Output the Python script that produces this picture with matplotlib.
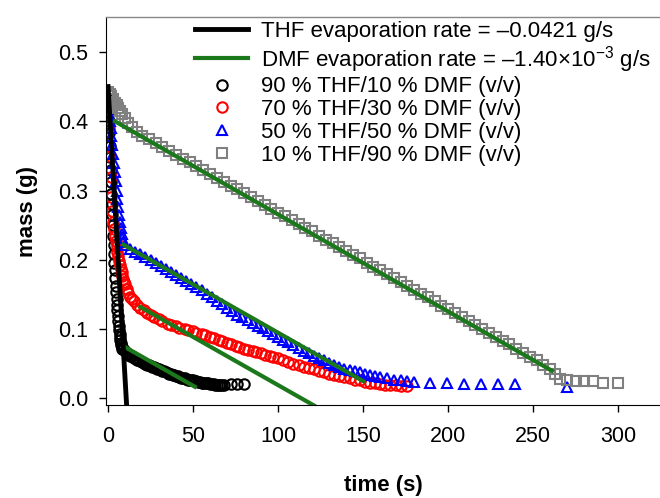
import numpy as np
import matplotlib
matplotlib.use('Agg')
import matplotlib.pyplot as plt

plt.rcParams['font.family'] = ['Liberation Sans', 'DejaVu Sans']
plt.rcParams['mathtext.fontset'] = 'custom'
plt.rcParams['mathtext.rm'] = 'Liberation Sans'
plt.rcParams['mathtext.it'] = 'Liberation Sans:italic'
plt.rcParams['mathtext.bf'] = 'Liberation Sans:bold'

# 90 % THF / 10 % DMF
t90 = [0, 0.25, 0.5, 0.75, 1, 1.25, 1.5, 1.75, 2, 2.25, 2.5, 2.75, 3, 3.25,
       3.5, 3.75, 4, 4.25, 4.5, 4.75, 5, 5.25, 5.5, 5.75, 6, 6.25, 6.5, 6.75,
       7, 7.25, 7.5, 7.75, 8, 8.5,
       9, 10, 11, 12, 13, 14, 15, 16, 17, 18, 19, 20, 21, 22, 23, 24, 25, 26,
       27, 28, 29, 30, 31, 32, 33, 34, 35, 36, 37, 38, 39, 40, 41, 42, 43, 44,
       45, 46, 47, 48, 49, 50, 51, 52, 53, 54, 55, 56, 57, 58, 59, 60, 61, 62,
       63, 64, 65, 66, 67, 68, 72, 76, 80]
m90 = [0.430, 0.415, 0.400, 0.383, 0.365, 0.348, 0.330, 0.312, 0.295, 0.280,
       0.265, 0.250, 0.235, 0.221, 0.208, 0.196, 0.185, 0.174, 0.163, 0.153,
       0.143, 0.135, 0.127, 0.119, 0.112, 0.105, 0.099, 0.093, 0.088, 0.084,
       0.080, 0.077, 0.075, 0.072,
       0.071, 0.068, 0.066, 0.064, 0.062, 0.061, 0.059, 0.058, 0.056, 0.055,
       0.054, 0.053, 0.051, 0.050, 0.049, 0.048, 0.047, 0.046, 0.045, 0.044,
       0.043, 0.042, 0.041, 0.040, 0.039, 0.038, 0.037, 0.036, 0.035, 0.034,
       0.034, 0.033, 0.032, 0.031, 0.030, 0.030, 0.029, 0.028, 0.027, 0.027,
       0.026, 0.026, 0.025, 0.025, 0.024, 0.024, 0.023, 0.023, 0.022, 0.022,
       0.022, 0.021, 0.021, 0.021, 0.020, 0.020, 0.020, 0.020, 0.020, 0.020,
       0.021, 0.021, 0.021]

# 70 % THF / 30 % DMF
t70 = [0, 0.5, 1, 1.5, 2, 2.5, 3, 3.5, 4, 4.5, 5, 5.5, 6, 6.5, 7, 7.5, 8, 8.5,
       9, 9.5, 10, 11, 12, 13, 14, 15,
       17, 19, 21, 23, 25, 27, 30, 32, 35, 37, 40, 42, 45, 47, 50, 52, 55, 57,
       60, 62, 65, 67, 70, 72, 75, 77, 80, 82, 85, 87, 90, 92, 95, 97, 100,
       103, 106, 109, 112, 115, 118, 121, 124, 127, 130, 133, 136, 139, 142,
       145, 148, 151, 154, 157, 160, 163, 166, 169, 172, 176]
m70 = [0.420, 0.390, 0.350, 0.320, 0.290, 0.270, 0.255, 0.245, 0.235, 0.227,
       0.220, 0.212, 0.205, 0.198, 0.192, 0.187, 0.182, 0.177, 0.172, 0.168,
       0.165, 0.158, 0.152, 0.147, 0.143, 0.140,
       0.135, 0.131, 0.127, 0.124, 0.121, 0.118, 0.114, 0.112, 0.108, 0.106,
       0.104, 0.102, 0.100, 0.099, 0.097, 0.095, 0.093, 0.091, 0.089, 0.087,
       0.085, 0.083, 0.080, 0.078, 0.076, 0.074, 0.072, 0.070, 0.068, 0.067,
       0.065, 0.063, 0.061, 0.060, 0.058, 0.055, 0.053, 0.050, 0.048, 0.046,
       0.044, 0.042, 0.040, 0.038, 0.036, 0.034, 0.032, 0.031, 0.029, 0.027,
       0.026, 0.024, 0.023, 0.022, 0.021, 0.020, 0.019, 0.019, 0.018, 0.018]

# 50 % THF / 50 % DMF
t50 = [0, 0.5, 1, 1.5, 2, 2.5, 3, 3.5, 4, 4.5, 5, 5.5, 6, 6.5, 7, 7.5, 8, 8.5,
       9, 10, 13, 16, 19, 22, 25, 28, 31, 34, 37, 40, 43, 46, 49, 52, 55, 58,
       61, 64, 67, 70, 73, 76, 79, 82, 85, 88, 91, 94, 97, 100, 103, 106, 109,
       112, 115, 118, 121, 124, 127, 130, 133, 136, 139, 142, 145, 148, 151,
       154, 157, 160, 164, 168, 172, 176, 180, 189, 199, 209, 219, 229, 239,
       270]
m50 = [0.420, 0.410, 0.400, 0.390, 0.378, 0.366, 0.353, 0.340, 0.327, 0.314,
       0.300, 0.288, 0.276, 0.265, 0.255, 0.246, 0.238, 0.231, 0.226, 0.221,
       0.216, 0.212, 0.208, 0.204, 0.200, 0.196, 0.191, 0.187, 0.183, 0.178,
       0.174, 0.169, 0.165, 0.161, 0.156, 0.151, 0.146, 0.141, 0.136, 0.131,
       0.126, 0.121, 0.117, 0.113, 0.109, 0.105, 0.101, 0.097, 0.093, 0.089,
       0.085, 0.081, 0.077, 0.073, 0.069, 0.065, 0.062, 0.058, 0.055, 0.051,
       0.048, 0.046, 0.043, 0.041, 0.039, 0.038, 0.036, 0.034, 0.033, 0.031,
       0.029, 0.027, 0.026, 0.025, 0.024, 0.022, 0.022, 0.021, 0.021, 0.021,
       0.021, 0.016]

# 10 % THF / 90 % DMF
t10 = [0, 1, 2, 3, 4, 5, 6, 7, 8, 10, 12, 14, 17, 20, 24, 28, 32, 36, 40, 44,
       48, 52, 56, 60, 64, 68, 72, 76, 80, 84, 88, 92, 96, 100, 104, 108, 112,
       116, 120, 124, 128, 132, 136, 140, 144, 148, 152, 156, 160, 164, 168,
       172, 176, 180, 184, 188, 192, 196, 200, 204, 208, 212, 216, 220, 224,
       228, 232, 236, 240, 244, 248, 252, 256, 260, 263, 266, 270, 275, 280,
       285, 291, 300]
m10 = [0.442, 0.440, 0.436, 0.432, 0.427, 0.423, 0.419, 0.415, 0.411, 0.404,
       0.397, 0.391, 0.385, 0.379, 0.374, 0.368, 0.363, 0.357, 0.352, 0.346,
       0.341, 0.335, 0.330, 0.324, 0.318, 0.313, 0.307, 0.302, 0.296, 0.291,
       0.285, 0.279, 0.274, 0.268, 0.263, 0.257, 0.252, 0.246, 0.241, 0.235,
       0.229, 0.224, 0.218, 0.213, 0.207, 0.202, 0.196, 0.190, 0.185, 0.179,
       0.174, 0.168, 0.162, 0.157, 0.151, 0.146, 0.140, 0.134, 0.129, 0.123,
       0.117, 0.112, 0.106, 0.100, 0.095, 0.089, 0.083, 0.078, 0.072, 0.066,
       0.060, 0.055, 0.049, 0.043, 0.035, 0.028, 0.026, 0.025, 0.025, 0.025,
       0.022, 0.023]

# fitted evaporation lines (start, end)
thf_t = [0, 11]
thf_m = [0.450, -0.013]
dmf_fits = [([9.4, 51], [0.075, 0.017]),
            ([19, 121], [0.132, -0.010]),
            ([9, 150], [0.222, 0.025]),
            ([4, 261], [0.400, 0.040])]

green = '#1b781b'

fig = plt.figure(figsize=(6.6, 4.98), dpi=100)
ax = fig.add_axes([106/660, 1-405/498, 1-106/660, (405-17)/498])

ms = 7.5
h90, = ax.plot(t90, m90, 'o', ms=ms, mfc='none', mec='black', mew=1.5,
               label='90 % THF/10 % DMF (v/v)')
h70, = ax.plot(t70, m70, 'o', ms=ms, mfc='none', mec='red', mew=1.5,
               label='70 % THF/30 % DMF (v/v)')
h50, = ax.plot(t50, m50, '^', ms=ms, mfc='none', mec='blue', mew=1.5,
               label='50 % THF/50 % DMF (v/v)')
h10, = ax.plot(t10, m10, 's', ms=7, mfc='none', mec='gray', mew=1.5,
               label='10 % THF/90 % DMF (v/v)')

for ft, fm in dmf_fits:
    hd, = ax.plot(ft, fm, color=green, lw=3,
                  label='DMF evaporation rate = –1.40×10$^{-3}$ g/s')
ht, = ax.plot(thf_t, thf_m, color='black', lw=3.5,
              label='THF evaporation rate = –0.0421 g/s')

ax.set_xlim(-1.2, 324.5)
ax.set_ylim(-0.0094, 0.5504)
ax.set_xticks([0, 50, 100, 150, 200, 250, 300])
ax.set_yticks([0.0, 0.1, 0.2, 0.3, 0.4, 0.5])
ax.set_yticklabels(['0.0', '0.1', '0.2', '0.3', '0.4', '0.5'])
ax.tick_params(direction='out', length=5, width=1, labelsize=15.5, pad=8)
ax.tick_params(axis='x', pad=10)
ax.spines['right'].set_visible(False)
ax.spines['top'].set_color('#888888')
ax.spines['top'].set_linewidth(1)

ax.set_xlabel('time (s)', fontsize=16, fontweight='bold', labelpad=20)
ax.set_ylabel('mass (g)', fontsize=16, fontweight='bold', labelpad=14)

ax.legend(handles=[ht, hd, h90, h70, h50, h10], loc='upper left',
          bbox_to_anchor=(195/660, 1-21/498), bbox_transform=fig.transFigure,
          frameon=False, fontsize=16, handlelength=2.4, handletextpad=0.55,
          labelspacing=0.08, borderpad=0, borderaxespad=0)

fig.savefig('out.png', dpi=100)
